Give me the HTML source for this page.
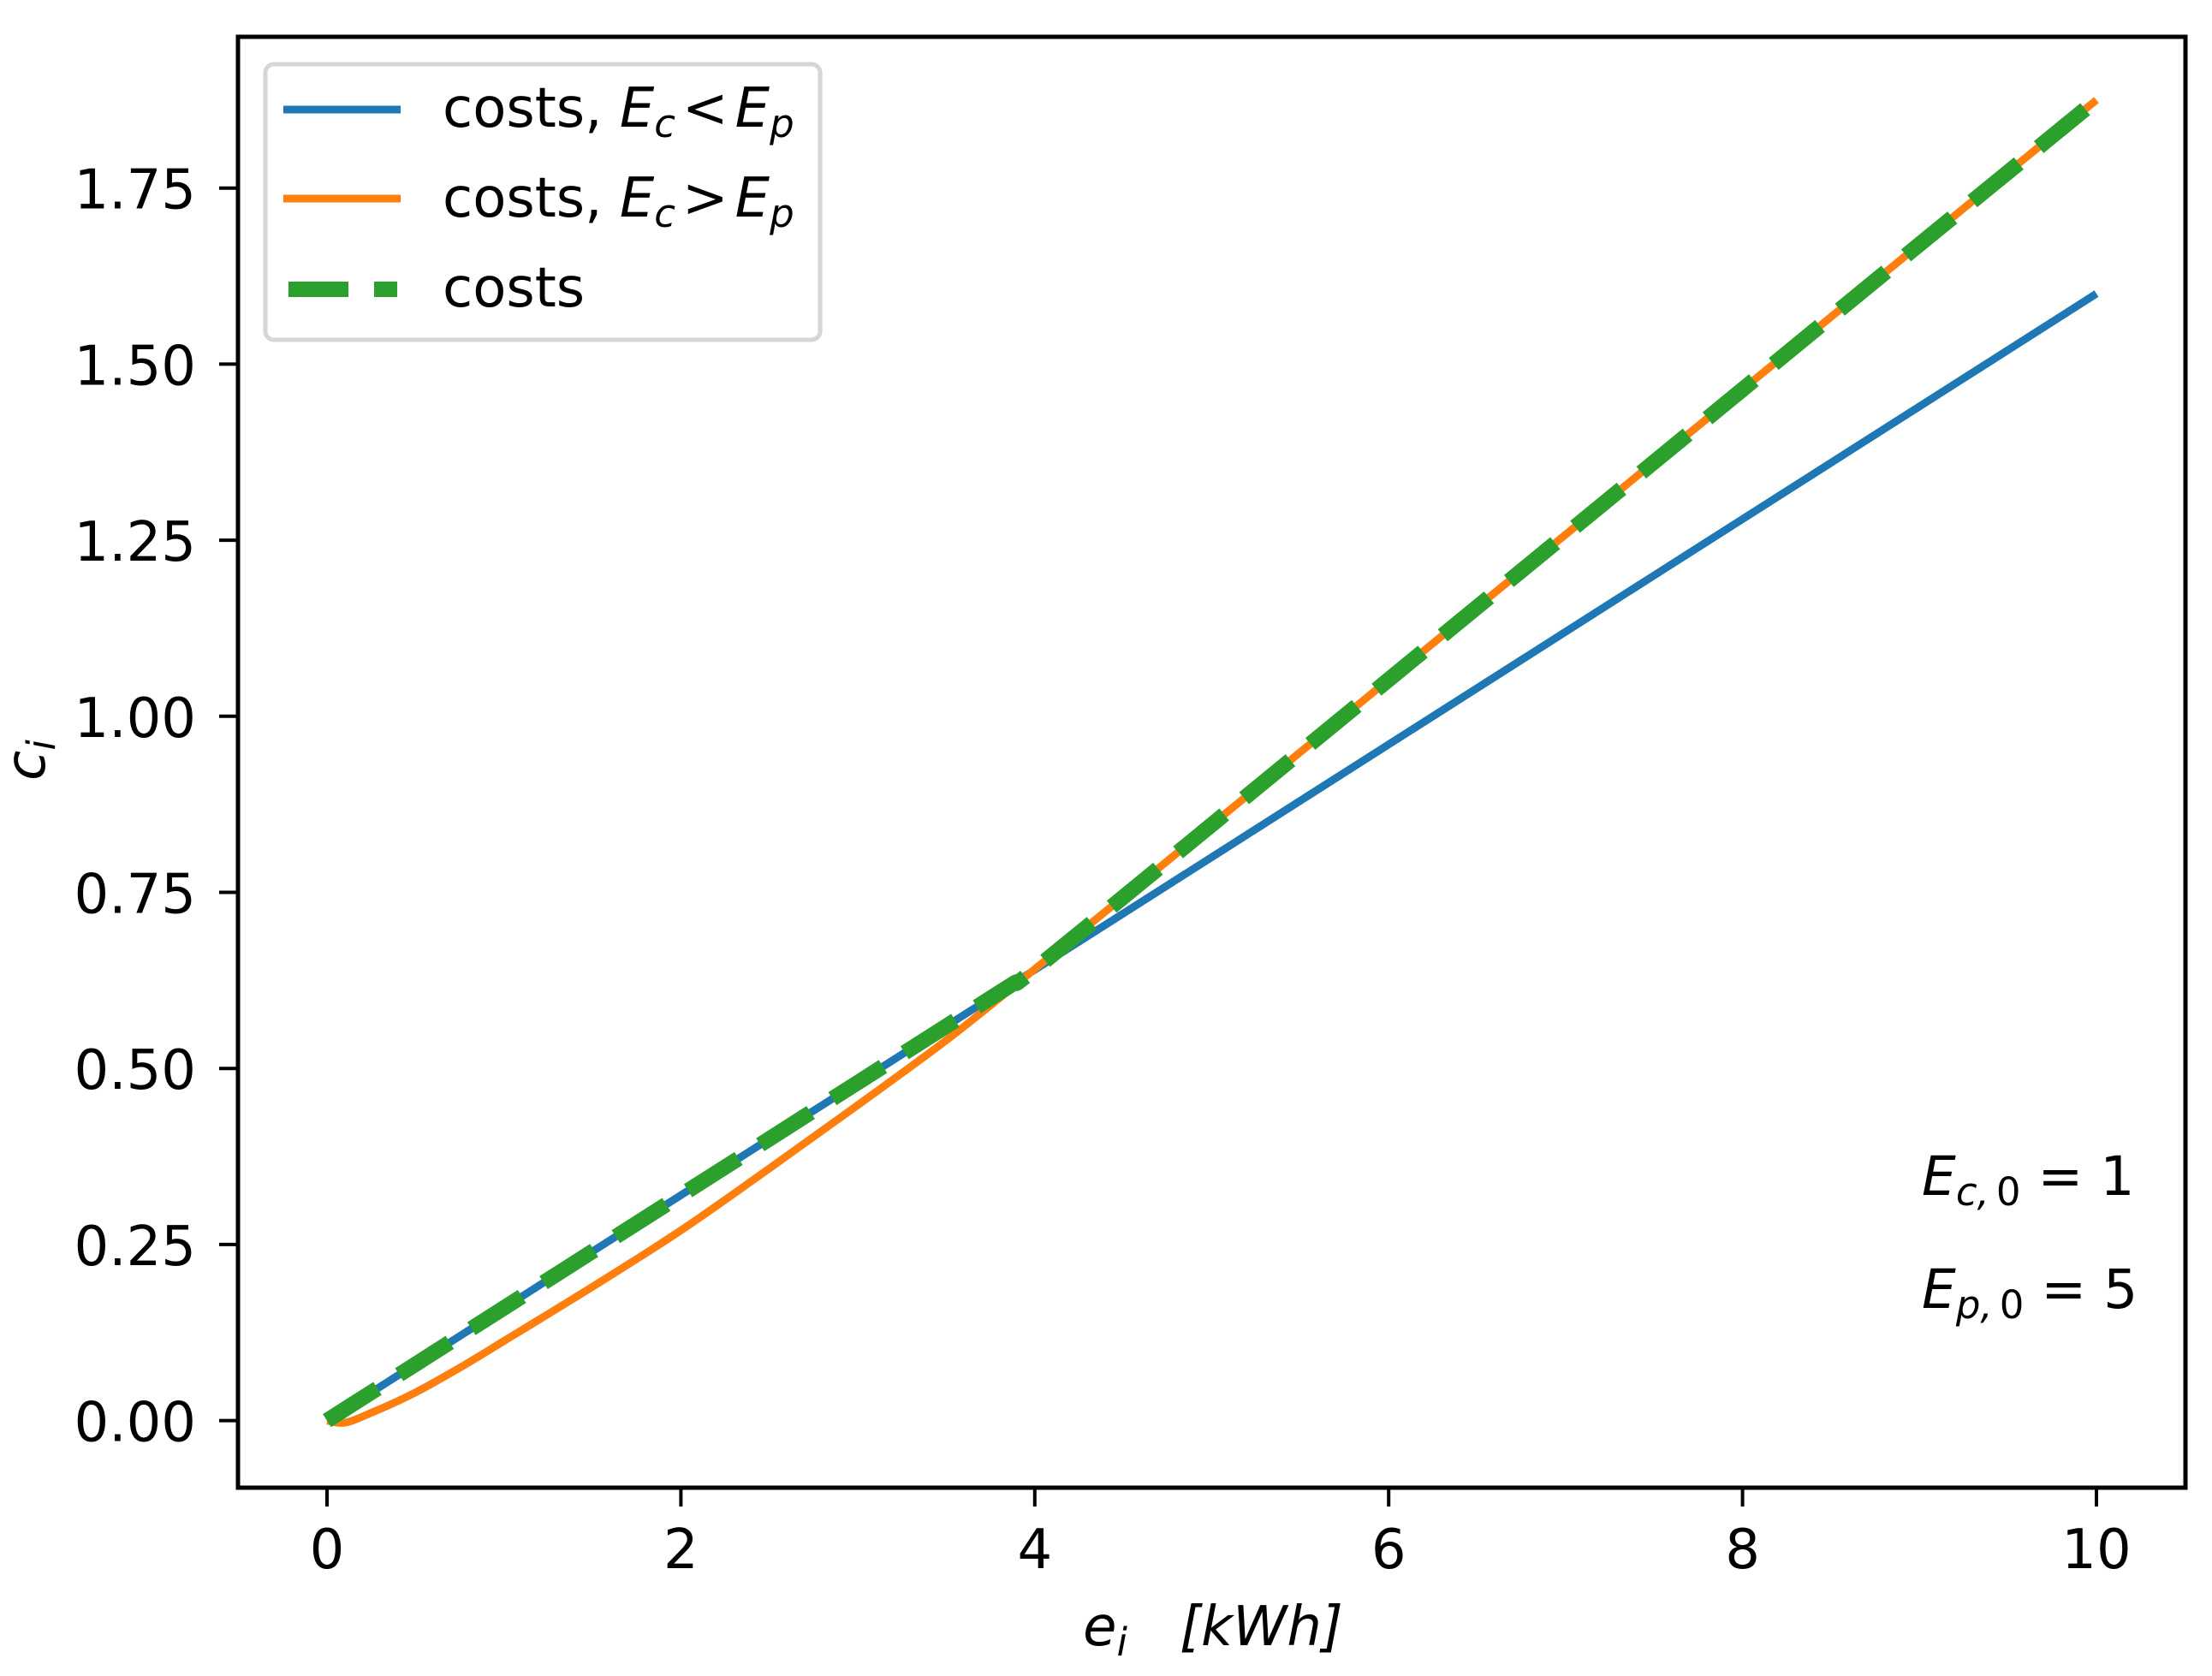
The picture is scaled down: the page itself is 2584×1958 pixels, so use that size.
<!DOCTYPE html>
<html><head><meta charset="utf-8">
<style>
html,body{margin:0;padding:0;background:#fff;}
svg{display:block;}
text{font-family:"DejaVu Sans","Liberation Sans",sans-serif;fill:#000;}
</style></head>
<body>
<svg id="chart" width="2584" height="1958" viewBox="0 0 2584 1958" xmlns="http://www.w3.org/2000/svg">
<rect x="0" y="0" width="2584" height="1958" fill="#fff"/>
<g id="plot"></g>
<g id="axes"></g>
<g>
  <rect x="310" y="75" width="648" height="322" rx="10" fill="#fff" fill-opacity="0.8" stroke="#d6d6d6" stroke-width="5"/>
  <line x1="331" y1="128" x2="468" y2="128" stroke="#1f77b4" stroke-width="9"/>
  <text x="517" y="148" font-size="64">costs, <tspan font-style="italic">E</tspan><tspan font-style="italic" font-size="45" dy="12">c</tspan><tspan dy="-12" dx="8">&lt;</tspan><tspan font-style="italic" dx="8">E</tspan><tspan font-style="italic" font-size="45" dy="12">p</tspan></text>
  <line x1="331" y1="232" x2="468" y2="232" stroke="#ff7f0e" stroke-width="9"/>
  <text x="517" y="253" font-size="64">costs, <tspan font-style="italic">E</tspan><tspan font-style="italic" font-size="45" dy="12">c</tspan><tspan dy="-12" dx="8">&gt;</tspan><tspan font-style="italic" dx="8">E</tspan><tspan font-style="italic" font-size="45" dy="12">p</tspan></text>
  <line x1="337" y1="338" x2="464" y2="338" stroke="#2ca02c" stroke-width="18" stroke-dasharray="70 30"/>
  <text x="517" y="358" font-size="64">costs</text>
</g>
<text x="2245" y="1396" font-size="63"><tspan font-style="italic">E</tspan><tspan font-style="italic" font-size="45" dy="12">c,</tspan><tspan font-size="45" dx="8">0</tspan><tspan dy="-12"> = 1</tspan></text>
<text x="2245" y="1528" font-size="63"><tspan font-style="italic">E</tspan><tspan font-style="italic" font-size="45" dy="12">p,</tspan><tspan font-size="45" dx="8">0</tspan><tspan dy="-12"> = 5</tspan></text>
<text x="1417" y="1922" font-size="64" text-anchor="middle" font-style="italic">e<tspan font-size="45" dy="12">i</tspan><tspan dy="-12">&#160;&#160;&#160;[kWh]</tspan></text>
<text transform="translate(52,888) rotate(-90)" font-size="64" text-anchor="middle" font-style="italic">c<tspan font-size="45" dy="12">i</tspan></text>
</svg>
<script>
const xs = [0,0.1,0.25,0.5,0.75,1,1.5,2,2.5,3,3.5,3.87,4,5,6,7,8,9,10];
const blueVals = [0,0.016,0.04,0.08,0.12,0.16,0.24,0.32,0.40,0.48,0.56,0.619,0.64,0.80,0.96,1.12,1.28,1.44,1.60];
const orangeVals = [0,-0.003,0.011,0.04,0.075,0.113,0.19,0.27,0.358,0.448,0.54,0.614,0.641,0.846,1.052,1.258,1.464,1.67,1.875];
const xTicks = [0,2,4,6,8,10];
const yTicks = [0,0.25,0.5,0.75,1.0,1.25,1.5,1.75];
const yTickLabels = ["0.00","0.25","0.50","0.75","1.00","1.25","1.50","1.75"];

const NS = "http://www.w3.org/2000/svg";
const L = 278, R = 2553, T = 43, B = 1738;
function sx(v){ return 382 + v * 206.7; }
function sy(v){ return 1659.6 - v * 822.8; }
const plot = document.getElementById('plot');
const axes = document.getElementById('axes');

function mk(tag, attrs, parent){
  const e = document.createElementNS(NS, tag);
  for (const k in attrs) e.setAttribute(k, attrs[k]);
  parent.appendChild(e);
  return e;
}
function smoothPath(vals){
  const p = xs.map((x,i)=>[sx(x), sy(vals[i])]);
  let d = 'M' + p[0][0].toFixed(1) + ',' + p[0][1].toFixed(1);
  for (let i=0;i<p.length-1;i++){
    const p0 = p[Math.max(0,i-1)], p1 = p[i], p2 = p[i+1], p3 = p[Math.min(p.length-1,i+2)];
    const c1x = p1[0] + (p2[0]-p0[0])/6, c1y = p1[1] + (p2[1]-p0[1])/6;
    const c2x = p2[0] - (p3[0]-p1[0])/6, c2y = p2[1] - (p3[1]-p1[1])/6;
    d += ' C' + c1x.toFixed(1)+','+c1y.toFixed(1)+' '+c2x.toFixed(1)+','+c2y.toFixed(1)+' '+p2[0].toFixed(1)+','+p2[1].toFixed(1);
  }
  return d;
}

const blue = mk('path', {d: smoothPath(blueVals), fill:'none', stroke:'#1f77b4', 'stroke-width':9, 'stroke-linejoin':'round'}, plot);


const orange = mk('path', {d: smoothPath(orangeVals), fill:'none', stroke:'#ff7f0e', 'stroke-width':9, 'stroke-linejoin':'round'}, plot);


const greenVals = blueVals.map((b,i)=>Math.max(b, orangeVals[i]));
const green = mk('path', {d: smoothPath(greenVals), fill:'none', stroke:'#2ca02c', 'stroke-width':18, 'stroke-dasharray':'70 30'}, plot);



const frame = mk('rect', {x:L, y:T, width:R-L, height:B-T, fill:'none', stroke:'#000', 'stroke-width':5}, axes);



xTicks.forEach(v=>{
  const t = mk('line', {x1:sx(v), x2:sx(v), y1:B, y2:B+22, stroke:'#000', 'stroke-width':4}, axes);
  
  
  const lb = mk('text', {x:sx(v), y:1832, 'font-size':64, 'text-anchor':'middle'}, axes);
  lb.textContent = String(v);
  
  
});
yTicks.forEach((v,i)=>{
  const t = mk('line', {x1:L-22, x2:L, y1:sy(v), y2:sy(v), stroke:'#000', 'stroke-width':4}, axes);
  
  
  const lb = mk('text', {x:229, y:sy(v)+24, 'font-size':64, 'text-anchor':'end'}, axes);
  lb.textContent = yTickLabels[i];
  
  
});
</script>
</body></html>
